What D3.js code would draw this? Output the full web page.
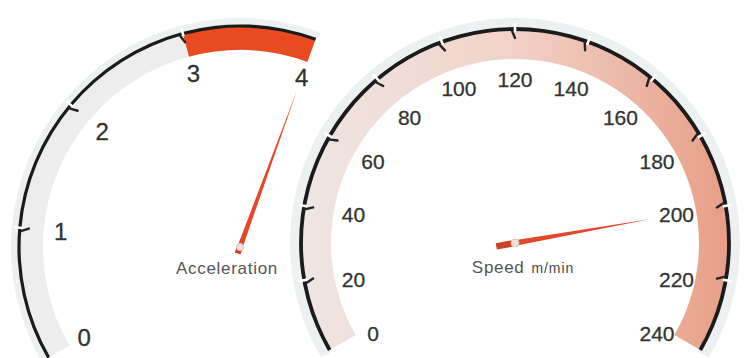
<!DOCTYPE html>
<html>
<head>
<meta charset="utf-8">
<script src="https://cdn.jsdelivr.net/npm/d3@7"></script>
<style>
  html, body { margin: 0; padding: 0; background: #fff; }
  svg { display: block; }
</style>
</head>
<body>
<svg id="chart" width="744" height="358"></svg>
<script>
// ---- Acceleration gauge data ----
const accelDomain = [0, 4];
const accelTicks = [0, 1, 2, 3, 4];
const accelTickLabels = ["0", "1", "2", "3", "4"];
const accelZone = [3, 4];          // highlighted range on the dial
const accelValue = [4];
const accelTitle = ["Acceleration"];

// ---- Speed gauge data ----
const speedDomain = [0, 240];
const speedTicks = [0, 20, 40, 60, 80, 100, 120, 140, 160, 180, 200, 220, 240];
const speedTickLabels = ["0", "20", "40", "60", "80", "100", "120", "140", "160", "180", "200", "220", "240"];
const speedValue = [200];
const speedTitle = ["Speed", "m/min"];

const svg = d3.select("#chart");
const defs = svg.append("defs");
const deg = Math.PI / 180;
const FONT = "'Liberation Sans', Arial, Helvetica, sans-serif";

// speed dial band: pale rose on the left to salmon on the right
// (coordinates are relative to the gauge centre, where the band is drawn)
const grad = defs.append("linearGradient")
  .attr("id", "speedBand")
  .attr("gradientUnits", "userSpaceOnUse")
  .attr("x1", -216).attr("y1", 0).attr("x2", 216).attr("y2", 0);
grad.append("stop").attr("offset", 0).attr("stop-color", "#efe6e4");
grad.append("stop").attr("offset", 0.5).attr("stop-color", "#f1d2c7");
grad.append("stop").attr("offset", 1).attr("stop-color", "#e89d86");

function drawGauge(g) {
  const root = svg.append("g");
  // angle scale in d3.arc convention (radians, clockwise from 12 o'clock)
  const angle = d3.scaleLinear().domain(g.domain).range([g.startDeg * deg, g.endDeg * deg]);
  const pos = (a, r) => [g.cx + r * Math.sin(a), g.cy - r * Math.cos(a)];
  const a0 = angle(g.domain[0]), a1 = angle(g.domain[1]);

  const arc = d3.arc();
  const ring = (r0, r1, s, e) => arc({ innerRadius: r0, outerRadius: r1, startAngle: s, endAngle: e });
  const layer = root.append("g").attr("transform", `translate(${g.cx},${g.cy})`);

  // pale outer rim
  layer.append("path").attr("d", ring(g.rBlack, g.rRim, a0 - 0.6 * deg, a1 + 0.6 * deg)).attr("fill", "#edf0f1");
  // coloured band
  layer.append("path").attr("d", ring(g.rInner, g.rBlack, a0, a1)).attr("fill", g.bandFill);
  if (g.zone) {
    layer.append("path").attr("d", ring(g.rInner, g.rBlack, angle(g.zone[0]), angle(g.zone[1])))
      .attr("fill", "#e94a20");
  }
  // dark rim line
  layer.append("path")
    .attr("d", ring(g.rBlack - g.lineW / 2, g.rBlack + g.lineW / 2, a0, a1))
    .attr("fill", "#1b1b1b");

  // notched ticks (interior values)
  const inner = g.ticks.filter(t => t > g.domain[0] && t < g.domain[1]);
  root.selectAll(null).data(inner).join("line")
    .attr("x1", d => pos(angle(d), g.rBlack + 6)[0]).attr("y1", d => pos(angle(d), g.rBlack + 6)[1])
    .attr("x2", d => pos(angle(d), g.rBlack - 3)[0]).attr("y2", d => pos(angle(d), g.rBlack - 3)[1])
    .attr("stroke", "#ffffff").attr("stroke-width", 2.6);
  root.selectAll(null).data(inner).join("line")
    .attr("x1", d => pos(angle(d) - 0.8 * deg, g.rBlack - 2)[0]).attr("y1", d => pos(angle(d) - 0.8 * deg, g.rBlack - 2)[1])
    .attr("x2", d => pos(angle(d), g.rBlack - 9)[0]).attr("y2", d => pos(angle(d), g.rBlack - 9)[1])
    .attr("stroke", "#222").attr("stroke-width", 2.4).attr("stroke-linecap", "round");

  // tick labels; optionally dropped a little in the lower half of the dial
  root.selectAll(null).data(g.ticks).join("text")
    .attr("x", d => pos(angle(d), g.rLabel)[0])
    .attr("y", d => {
      const down = -Math.cos(angle(d));
      return pos(angle(d), g.rLabel)[1] + (down > 0.1 ? g.labelDrop : 0);
    })
    .attr("text-anchor", "middle")
    .attr("dominant-baseline", "central")
    .attr("font-family", FONT)
    .attr("font-size", g.labelSize)
    .attr("fill", "#333")
    .attr("stroke", "#333")
    .attr("stroke-width", 0.3)
    .text((d, i) => g.tickLabels[i]);

  // needle
  const a = angle(g.value[0]);
  const ux = Math.sin(a), uy = -Math.cos(a);
  const nx = -uy, ny = ux;
  const P = (along, across) => [g.cx + ux * along + nx * across, g.cy + uy * along + ny * across];
  const needle = [P(g.needleLen, 0), P(0, g.needleW), P(0, -g.needleW)];
  root.append("path").attr("d", d3.line()(needle) + "Z").attr("fill", "#e4472a");
  const tail = [P(0, g.needleW * 1.15), P(-g.tailLen, g.needleW * 1.15), P(-g.tailLen, -g.needleW * 1.15), P(0, -g.needleW * 1.15)];
  root.append("path").attr("d", d3.line()(tail) + "Z").attr("fill", "#c9432b");
  root.append("circle").attr("cx", g.cx).attr("cy", g.cy).attr("r", g.pivotR)
    .attr("fill", "#f6dcd6").attr("stroke", "#dcc6c0").attr("stroke-width", 1);

  // title
  const title = root.append("text")
    .attr("x", g.cx + g.titleDx).attr("y", g.cy + g.titleDy)
    .attr("text-anchor", "middle")
    .attr("font-family", FONT)
    .attr("fill", "#555");
  title.append("tspan").attr("font-size", 17).attr("letter-spacing", 0.7).text(g.title[0]);
  if (g.title[1]) {
    title.append("tspan").attr("dx", 7).attr("font-size", 14).attr("letter-spacing", 0.9)
      .attr("fill", "#4a4a4a").text(g.title[1]);
  }
}

drawGauge({
  cx: 240, cy: 247, startDeg: -120, endDeg: 20,
  domain: accelDomain, ticks: accelTicks, tickLabels: accelTickLabels,
  zone: accelZone, value: accelValue, title: accelTitle,
  rInner: 197, rBlack: 221, rRim: 229, rLabel: 180, lineW: 3.2, labelDrop: 0,
  bandFill: "#ededed", labelSize: 24,
  needleLen: 166, needleW: 2.6, tailLen: 7, pivotR: 3.6,
  titleDx: -13, titleDy: 27
});

drawGauge({
  cx: 515, cy: 243, startDeg: -120, endDeg: 120,
  domain: speedDomain, ticks: speedTicks, tickLabels: speedTickLabels,
  zone: null, value: speedValue, title: speedTitle,
  rInner: 184, rBlack: 214, rRim: 225, rLabel: 164, lineW: 3.8, labelDrop: 8,
  bandFill: "url(#speedBand)", labelSize: 21,
  needleLen: 138, needleW: 2.8, tailLen: 19, pivotR: 4,
  titleDx: 8, titleDy: 30
});
</script>
</body>
</html>
